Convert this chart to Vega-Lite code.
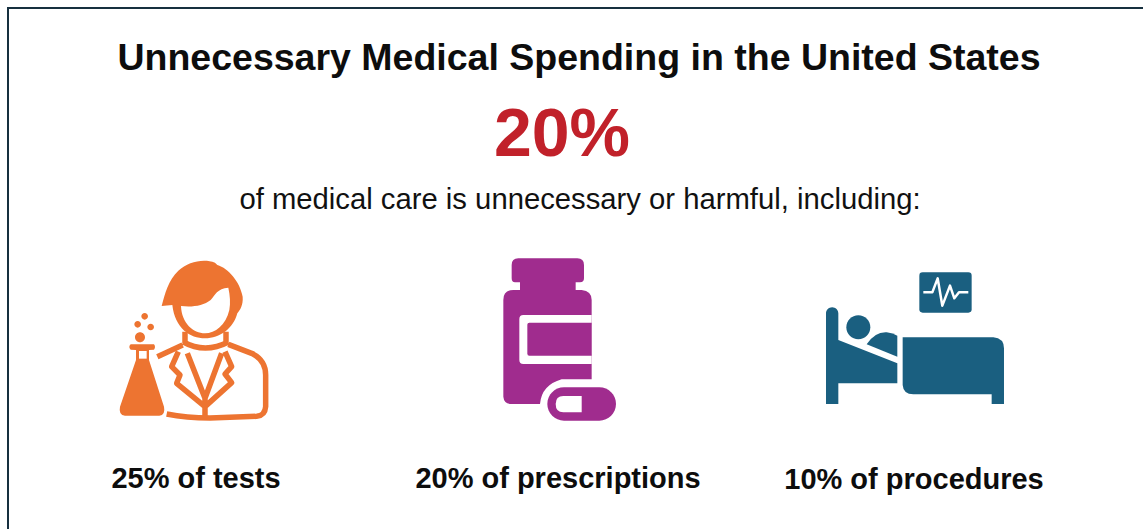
{
  "$schema": "https://vega.github.io/schema/vega-lite/v6.json",
  "width": 1143,
  "height": 529,
  "padding": 0,
  "autosize": "none",
  "background": "#ffffff",
  "view": {"stroke": null},
  "config": {"text": {"font": "Liberation Sans"}},
  "resolve": {"scale": {"x": "independent", "y": "independent", "shape": "independent", "color": "independent"}},
  "layer": [
    {
      "data": {"values": [
        {"step": 1, "across": "left", "down": "bottom"},
        {"step": 2, "across": "left", "down": "top"},
        {"step": 3, "across": "right", "down": "top"}
      ]},
      "mark": {"type": "line", "color": "#17303f", "strokeWidth": 2},
      "encoding": {
        "x": {"field": "across", "type": "nominal", "axis": null, "scale": {"domain": ["left", "right"], "range": [8, 1143], "padding": 0}},
        "y": {"field": "down", "type": "nominal", "axis": null, "scale": {"domain": ["top", "bottom"], "range": [8, 529], "padding": 0}},
        "order": {"field": "step", "type": "quantitative"}
      }
    },
    {
      "data": {"values": [{"block": "title", "text": "Unnecessary Medical Spending in the United States"}]},
      "mark": {"type": "text", "fontSize": 37.5, "fontWeight": "bold", "color": "#0d0d0d", "baseline": "middle", "align": "center"},
      "encoding": {
        "x": {"field": "block", "type": "nominal", "axis": null, "scale": {"domain": ["title"], "range": [579, 579]}},
        "y": {"field": "block", "type": "nominal", "axis": null, "scale": {"domain": ["title"], "range": [59, 59]}},
        "text": {"field": "text"}
      }
    },
    {
      "data": {"values": [{"block": "headline", "text": "20%"}]},
      "mark": {"type": "text", "fontSize": 68, "fontWeight": "bold", "color": "#c1212a", "baseline": "middle", "align": "center"},
      "encoding": {
        "x": {"field": "block", "type": "nominal", "axis": null, "scale": {"domain": ["headline"], "range": [562, 562]}},
        "y": {"field": "block", "type": "nominal", "axis": null, "scale": {"domain": ["headline"], "range": [136, 136]}},
        "text": {"field": "text"}
      }
    },
    {
      "data": {"values": [{"block": "subtitle", "text": "of medical care is unnecessary or harmful, including:"}]},
      "mark": {"type": "text", "fontSize": 29.25, "color": "#111111", "baseline": "middle", "align": "center"},
      "encoding": {
        "x": {"field": "block", "type": "nominal", "axis": null, "scale": {"domain": ["subtitle"], "range": [580, 580]}},
        "y": {"field": "block", "type": "nominal", "axis": null, "scale": {"domain": ["subtitle"], "range": [200, 200]}},
        "text": {"field": "text"}
      }
    },
    {
      "data": {"values": [{"panel": "tests", "share": 25, "text": "25% of tests"}]},
      "mark": {"type": "text", "fontSize": 29, "fontWeight": "bold", "color": "#0d0d0d", "baseline": "middle", "align": "center"},
      "encoding": {
        "x": {"field": "panel", "type": "nominal", "axis": null, "scale": {"domain": ["tests"], "range": [196, 196]}},
        "y": {"field": "panel", "type": "nominal", "axis": null, "scale": {"domain": ["tests"], "range": [479, 479]}},
        "text": {"field": "text"}
      }
    },
    {
      "data": {"values": [{"panel": "prescriptions", "share": 20, "text": "20% of prescriptions"}]},
      "mark": {"type": "text", "fontSize": 29, "fontWeight": "bold", "color": "#0d0d0d", "baseline": "middle", "align": "center"},
      "encoding": {
        "x": {"field": "panel", "type": "nominal", "axis": null, "scale": {"domain": ["prescriptions"], "range": [558, 558]}},
        "y": {"field": "panel", "type": "nominal", "axis": null, "scale": {"domain": ["prescriptions"], "range": [479, 479]}},
        "text": {"field": "text"}
      }
    },
    {
      "data": {"values": [{"panel": "procedures", "share": 10, "text": "10% of procedures"}]},
      "mark": {"type": "text", "fontSize": 29, "fontWeight": "bold", "color": "#0d0d0d", "baseline": "middle", "align": "center"},
      "encoding": {
        "x": {"field": "panel", "type": "nominal", "axis": null, "scale": {"domain": ["procedures"], "range": [914, 914]}},
        "y": {"field": "panel", "type": "nominal", "axis": null, "scale": {"domain": ["procedures"], "range": [480, 480]}},
        "text": {"field": "text"}
      }
    },
    {
      "data": {"values": [
        {"panel": "tests", "part": "head", "tint": "ink"},
        {"panel": "tests", "part": "face", "tint": "cutout"},
        {"panel": "tests", "part": "flask", "tint": "ink"},
        {"panel": "tests", "part": "flaskNeck", "tint": "cutout"},
        {"panel": "tests", "part": "bubbles", "tint": "ink"}
      ]},
      "mark": {"type": "point", "filled": true, "size": 0.4444, "opacity": 1, "strokeWidth": 0},
      "encoding": {
        "x": {"field": "panel", "type": "nominal", "axis": null, "scale": {"domain": ["tests"], "range": [100, 100]}},
        "y": {"field": "panel", "type": "nominal", "axis": null, "scale": {"domain": ["tests"], "range": [250, 250]}},
        "color": {"field": "tint", "type": "nominal", "legend": null, "scale": {"domain": ["ink", "cutout"], "range": ["#ed7431", "#ffffff"]}},
        "shape": {"field": "part", "type": "nominal", "legend": null, "scale": {
          "domain": ["head", "face", "flask", "flaskNeck", "bubbles"],
          "range": [
            "M185,168 C195,130 205,90 235,62 C265,35 310,25 345,38 L352,45 C385,55 420,95 428,140 C430,165 420,180 412,190 C400,235 360,265 315,265 C270,265 225,235 217,165 Z",
            "M243,168 C275,172 310,168 332,150 C345,135 352,115 385,113 C390,135 392,160 388,180 C378,225 345,250 315,250 C280,250 245,220 243,168 Z",
            "M92,283 L162,283 Q168,291 162,299 L147,300 L147,330 L192,470 Q197,495 178,497 L75,497 Q55,495 60,470 L108,330 L108,300 L92,299 Q84,291 92,283 Z",
            "M117,303 L140,303 L140,326 L117,326 Z",
            "M105,262 a15,15 0 1,0 30,0 a15,15 0 1,0 -30,0 Z M103,223 a10,10 0 1,0 20,0 a10,10 0 1,0 -20,0 Z M142,231 a10,10 0 1,0 20,0 a10,10 0 1,0 -20,0 Z M124,199 a10,10 0 1,0 20,0 a10,10 0 1,0 -20,0 Z"
          ]
        }}
      }
    },
    {
      "data": {"values": [
        {"panel": "tests", "part": "coat", "tint": "ink"},
        {"panel": "tests", "part": "lapels", "tint": "ink"}
      ]},
      "mark": {"type": "point", "filled": false, "size": 0.4444, "opacity": 1, "strokeWidth": 5.5, "strokeJoin": "round", "strokeCap": "butt"},
      "encoding": {
        "x": {"field": "panel", "type": "nominal", "axis": null, "scale": {"domain": ["tests"], "range": [100, 100]}},
        "y": {"field": "panel", "type": "nominal", "axis": null, "scale": {"domain": ["tests"], "range": [250, 250]}},
        "color": {"field": "tint", "type": "nominal", "legend": null, "scale": {"domain": ["ink"], "range": ["#ed7431"]}},
        "shape": {"field": "part", "type": "nominal", "legend": null, "scale": {
          "domain": ["coat", "lapels"],
          "range": [
            "M172,320 L248,285 M255,245 L255,280 M378,245 L378,280 M250,276 Q315,312 385,276 M385,283 L455,310 Q497,330 497,375 L497,470 Q495,497 470,499 L330,504 Q260,504 200,492",
            "M315,440 L315,498 M262,310 L315,445 L365,310 M235,305 L215,350 L240,375 L230,400 L315,470 L395,398 L375,372 L395,350 L375,305"
          ]
        }}
      }
    },
    {
      "data": {"values": [
        {"panel": "prescriptions", "part": "bottle", "tint": "ink"},
        {"panel": "prescriptions", "part": "labelEdge", "tint": "cutout"},
        {"panel": "prescriptions", "part": "label", "tint": "ink"},
        {"panel": "prescriptions", "part": "pill", "tint": "ink"},
        {"panel": "prescriptions", "part": "pillHalf", "tint": "cutout"}
      ]},
      "mark": {"type": "point", "filled": true, "size": 0.4444, "opacity": 1, "strokeWidth": 0},
      "encoding": {
        "x": {"field": "panel", "type": "nominal", "axis": null, "scale": {"domain": ["prescriptions"], "range": [490, 490]}},
        "y": {"field": "panel", "type": "nominal", "axis": null, "scale": {"domain": ["prescriptions"], "range": [250, 250]}},
        "color": {"field": "tint", "type": "nominal", "legend": null, "scale": {"domain": ["ink", "cutout"], "range": ["#a02c8e", "#ffffff"]}},
        "shape": {"field": "part", "type": "nominal", "legend": null, "scale": {
          "domain": ["bottle", "labelEdge", "label", "pill", "pillHalf"],
          "range": [
            "M65,45 Q65,25 85,25 L262,25 Q282,25 282,45 L282,85 Q282,97 270,97 L257,97 L257,120 L275,120 Q305,123 305,150 L305,388 L215,388 Q155,405 150,462 L65,462 Q42,462 40,440 L40,150 Q40,120 70,120 L90,120 L90,97 L75,97 Q65,97 65,85 Z",
            "M100,195 L305,195 L305,342 L100,342 Q88,342 88,330 L88,207 Q88,195 100,195 Z",
            "M118,218 L305,218 L305,317 L118,317 Q112,317 112,311 L112,224 Q112,218 118,218 Z",
            "M222,412 L328,412 A50,50 0 0 1 328,512 L222,512 A50,50 0 0 1 222,412 Z",
            "M275,438 L275,487 L220,487 Q197,487 197,462 Q197,438 220,438 Z"
          ]
        }}
      }
    },
    {
      "data": {"values": [
        {"panel": "procedures", "part": "monitor"},
        {"panel": "procedures", "part": "headboard"},
        {"panel": "procedures", "part": "patient"},
        {"panel": "procedures", "part": "headOfPatient"},
        {"panel": "procedures", "part": "mattress"}
      ]},
      "mark": {"type": "point", "filled": true, "size": 0.4444, "opacity": 1, "strokeWidth": 0, "color": "#1a5f80"},
      "encoding": {
        "x": {"field": "panel", "type": "nominal", "axis": null, "scale": {"domain": ["procedures"], "range": [815, 815]}},
        "y": {"field": "panel", "type": "nominal", "axis": null, "scale": {"domain": ["procedures"], "range": [265, 265]}},
        "shape": {"field": "part", "type": "nominal", "legend": null, "scale": {
          "domain": ["monitor", "headboard", "patient", "headOfPatient", "mattress"],
          "range": [
            "M323,22 L460,22 Q470,22 470,32 L470,133 Q470,143 460,143 L323,143 Q313,143 313,133 L313,32 Q313,22 323,22 Z",
            "M33,417 L33,145 A18,18 0 0 1 70,145 L70,225 L247,295 L247,355 L70,355 L70,417 Z",
            "M155,238 Q180,200 215,202 Q235,205 247,212 L247,275 Z",
            "M94,187 a36,36 0 1,0 72,0 a36,36 0 1,0 -72,0 Z",
            "M263,217 L535,217 Q567,220 567,250 L567,417 L530,417 L530,388 L295,388 Q265,388 263,360 Z"
          ]
        }}
      }
    },
    {
      "data": {"values": [{"panel": "procedures", "part": "pulse"}]},
      "mark": {"type": "point", "filled": false, "size": 0.4444, "opacity": 1, "strokeWidth": 2.5, "color": "#ffffff", "strokeJoin": "round"},
      "encoding": {
        "x": {"field": "panel", "type": "nominal", "axis": null, "scale": {"domain": ["procedures"], "range": [815, 815]}},
        "y": {"field": "panel", "type": "nominal", "axis": null, "scale": {"domain": ["procedures"], "range": [265, 265]}},
        "shape": {"field": "part", "type": "nominal", "legend": null, "scale": {
          "domain": ["pulse"],
          "range": ["M325,82 L352,82 L368,40 L382,122 L405,62 L418,100 L432,82 L460,82"]
        }}
      }
    }
  ]
}
